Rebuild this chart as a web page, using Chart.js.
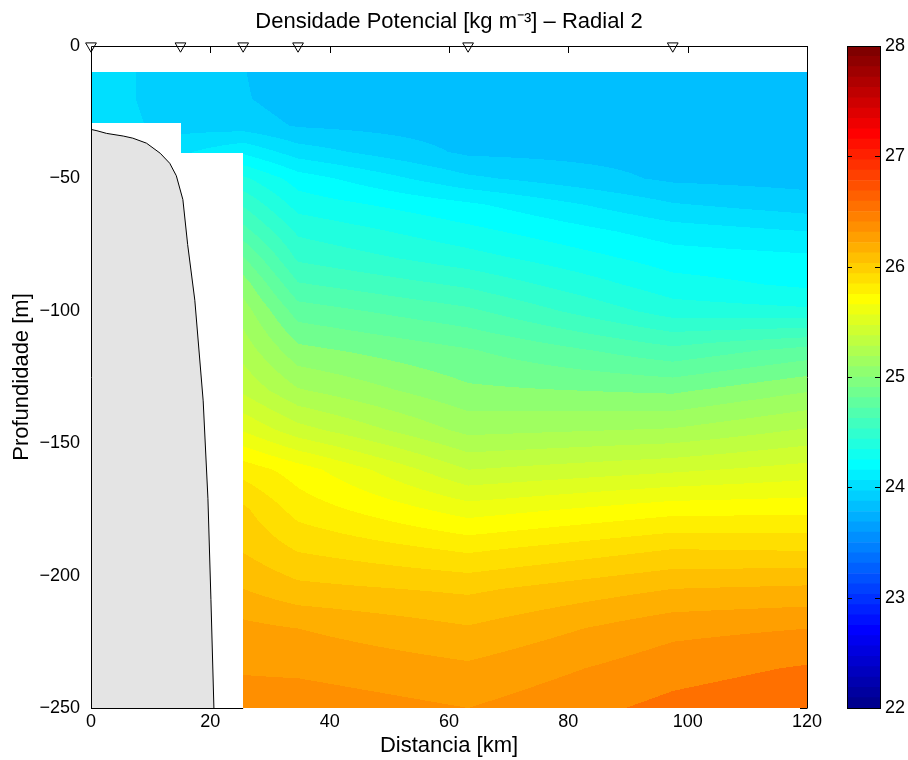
<!DOCTYPE html>
<html>
<head>
<meta charset="utf-8">
<script src="https://cdn.jsdelivr.net/npm/chart.js@4.4.1/dist/chart.umd.min.js"></script>
<style>
  body { margin: 0; background: #fff; }
  #wrap { position: relative; width: 908px; height: 760px; }
  #main { position: absolute; left: 0; top: 0; }
  #cbar { position: absolute; left: 820px; top: 0; }
</style>
</head>
<body>
<div id="wrap">
  <canvas id="main" width="908" height="760"></canvas>
  <canvas id="cbar" width="88" height="760"></canvas>
</div>
<script>
// stations (triangles on top axis), km
const STATION_KM = [0, 15, 25.5, 34.7, 63.2, 97.5];

// grid columns of the section, km
const GRID_KM = [0, 15, 25.5, 34.7, 63.2, 97.5, 120];
// depths of the profiles, m
const DEPTH_M = [10, 20, 30, 40, 50, 60, 70, 80, 90, 100, 115, 130, 145, 160, 175, 190, 205, 220, 235, 250];

// potential density profiles (kg m-3) at each grid column
const SIGMA_00 = [24.05, 24.05, 24.06];
const SIGMA_15 = [23.95, 23.95, 23.96, 24.08];
const SIGMA_25 = [23.905, 23.91, 23.95, 24.18, 24.42, 24.59, 24.74, 24.91, 25.05, 25.15, 25.26, 25.38, 25.59, 25.86, 26.02, 26.09, 26.20, 26.33, 26.39, 26.45];
const SIGMA_35 = [23.83, 23.85, 23.89, 24.05, 24.25, 24.36, 24.48, 24.58, 24.71, 24.85, 25.03, 25.21, 25.44, 25.75, 25.86, 25.99, 26.13, 26.30, 26.38, 26.46];
const SIGMA_63 = [23.81, 23.83, 23.85, 23.88, 24.02, 24.22, 24.33, 24.44, 24.58, 24.72, 24.91, 25.02, 25.17, 25.40, 25.65, 25.88, 26.08, 26.21, 26.32, 26.40];
const SIGMA_98 = [23.82, 23.84, 23.85, 23.86, 23.88, 24.01, 24.15, 24.25, 24.34, 24.45, 24.73, 24.98, 25.21, 25.48, 25.76, 26.00, 26.20, 26.37, 26.46, 26.53];
const SIGMA_120 = [23.80, 23.82, 23.83, 23.84, 23.86, 23.95, 24.10, 24.22, 24.28, 24.42, 24.84, 25.09, 25.31, 25.54, 25.77, 25.99, 26.22, 26.40, 26.51, 26.58];
const GRID_SIGMA = [SIGMA_00, SIGMA_15, SIGMA_25, SIGMA_35, SIGMA_63, SIGMA_98, SIGMA_120];
// deepest sampled depth between column i and i+1
const BOTTOM_M = [29.1, 40.4, 250, 250, 250, 250];

// bathymetry (grey shelf)
const BATHY_KM = [0, 1, 2.6, 5.4, 7, 9.3, 11.6, 13.2, 14.3, 15.4, 16.2, 17.4, 18.8, 19.6, 20.1, 20.6];
const BATHY_M = [31.5, 32, 33, 34, 34.8, 36.7, 40.5, 44.3, 49, 58, 75, 96, 134, 171, 209, 250];

// colour scale
const CMIN = 22, CMAX = 28, NCOLORS = 64;
const LEVEL_STEP = 0.1;

// matlab jet(64)
function jet(i) {
  let r = 0, g = 0, b = 0;
  if (i >= 24 && i <= 39) r = (i - 23) / 16; else if (i >= 40 && i <= 54) r = 1; else if (i >= 55) r = (71 - i) / 16;
  if (i >= 8 && i <= 23) g = (i - 7) / 16; else if (i >= 24 && i <= 38) g = 1; else if (i >= 39 && i <= 54) g = (55 - i) / 16;
  if (i <= 7) b = (i + 9) / 16; else if (i <= 22) b = 1; else if (i <= 38) b = (39 - i) / 16;
  return [Math.round(r * 255), Math.round(g * 255), Math.round(b * 255)];
}
const JET = [];
for (let i = 0; i < NCOLORS; i++) JET.push(jet(i));

function profile(col, d) {
  const n = col.length;
  if (d >= DEPTH_M[n - 1]) return col[n - 1];
  let j = 0;
  while (DEPTH_M[j + 1] < d) j++;
  const s = (d - DEPTH_M[j]) / (DEPTH_M[j + 1] - DEPTH_M[j]);
  return col[j] + s * (col[j + 1] - col[j]);
}

function levelColor(v) {
  const lev = Math.floor(v / LEVEL_STEP + 1e-6) * LEVEL_STEP;
  let k = Math.floor((lev - CMIN) / (CMAX - CMIN) * NCOLORS + 1e-6);
  k = Math.max(0, Math.min(NCOLORS - 1, k));
  return JET[k];
}

Chart.defaults.font.family = "'Liberation Sans', Arial, sans-serif";
Chart.defaults.color = '#000';

const sectionPlugin = {
  id: 'section',
  beforeDatasetsDraw(chart) {
    const { ctx, chartArea: a, scales: { x, y } } = chart;
    ctx.save();
    ctx.strokeStyle = '#000';
    ctx.lineWidth = 1;
    ctx.beginPath();
    x.ticks.forEach(t => {
      const px = Math.round(x.getPixelForValue(t.value)) + 0.5;
      ctx.moveTo(px, a.top); ctx.lineTo(px, a.top + 7);
      ctx.moveTo(px, a.bottom); ctx.lineTo(px, a.bottom - 7);
    });
    y.ticks.forEach(t => {
      const py = Math.round(y.getPixelForValue(t.value)) + 0.5;
      ctx.moveTo(a.left, py); ctx.lineTo(a.left + 7, py);
      ctx.moveTo(a.right, py); ctx.lineTo(a.right - 7, py);
    });
    ctx.stroke();

    // filled contours
    const w = Math.round(a.right - a.left), h = Math.round(a.bottom - a.top);
    const off = document.createElement('canvas');
    off.width = w; off.height = h;
    const octx = off.getContext('2d');
    const img = octx.createImageData(w, h);
    for (let px = 0; px < w; px++) {
      const km = x.getValueForPixel(a.left + px + 0.5);
      let i = 0;
      while (i < GRID_KM.length - 2 && km > GRID_KM[i + 1]) i++;
      const t = (km - GRID_KM[i]) / (GRID_KM[i + 1] - GRID_KM[i]);
      for (let py = 0; py < h; py++) {
        const d = -y.getValueForPixel(a.top + py + 0.5);
        if (d < DEPTH_M[0] || d > BOTTOM_M[i]) continue;
        const v = (1 - t) * profile(GRID_SIGMA[i], d) + t * profile(GRID_SIGMA[i + 1], d);
        const c = levelColor(v);
        const o = (py * w + px) * 4;
        img.data[o] = c[0]; img.data[o + 1] = c[1]; img.data[o + 2] = c[2]; img.data[o + 3] = 255;
      }
    }
    octx.putImageData(img, 0, 0);
    ctx.drawImage(off, a.left, a.top);
    ctx.restore();
  },
  afterDatasetsDraw(chart) {
    const { ctx, chartArea: a, scales: { x } } = chart;
    ctx.save();
    ctx.strokeStyle = '#000';
    ctx.lineWidth = 1;
    ctx.beginPath();
    ctx.moveTo(a.left + 0.5, a.bottom + 0.5);
    ctx.lineTo(a.left + 0.5, a.top + 0.5);
    ctx.lineTo(a.right + 0.5, a.top + 0.5);
    ctx.lineTo(a.right + 0.5, a.bottom + 0.5);
    ctx.moveTo(a.left, a.bottom + 0.5);
    ctx.lineTo(x.getPixelForValue(GRID_KM[2]), a.bottom + 0.5);
    ctx.stroke();
    ctx.restore();
  }
};

new Chart(document.getElementById('main'), {
  type: 'line',
  data: {
    datasets: [
      {
        label: 'Batimetria',
        data: BATHY_KM.map((k, i) => ({ x: k, y: -BATHY_M[i] })),
        borderColor: '#000',
        borderWidth: 1,
        backgroundColor: '#e4e4e4',
        fill: 'start',
        pointRadius: 0,
        tension: 0
      },
      {
        label: 'Estações',
        data: STATION_KM.map(k => ({ x: k, y: 0 })),
        showLine: false,
        pointStyle: 'triangle',
        rotation: 180,
        pointRadius: 6.2,
        backgroundColor: '#fff',
        borderColor: '#000',
        borderWidth: 1,
        clip: false
      }
    ]
  },
  options: {
    responsive: false,
    animation: false,
    layout: { padding: { left: 0, right: 10, top: 0, bottom: 0 } },
    plugins: {
      legend: { display: false },
      tooltip: { enabled: false },
      title: {
        display: true,
        text: 'Densidade Potencial [kg m\u207B\u00B3] \u2013 Radial 2',
        font: { size: 22, weight: 'normal' },
        color: '#000',
        padding: { top: 8.8, bottom: 10.8 }
      }
    },
    scales: {
      x: {
        type: 'linear', min: 0, max: 120,
        ticks: { stepSize: 20, font: { size: 18 }, padding: 3, maxRotation: 0 },
        grid: { display: false, drawTicks: false },
        border: { display: false },
        title: { display: true, text: 'Distancia [km]', font: { size: 22 }, padding: { top: 0, bottom: 0.8 } },
        afterFit: s => { s.height = 52; }
      },
      y: {
        type: 'linear', min: -250, max: 0,
        ticks: { stepSize: 50, font: { size: 18 }, padding: 11, callback: v => v === 0 ? '0' : '\u2212' + Math.abs(v) },
        grid: { display: false, drawTicks: false },
        border: { display: false },
        title: { display: true, text: 'Profundidade [m]', font: { size: 22 }, padding: { top: 8.8, bottom: 0 } },
        afterFit: s => { s.width = 91; }
      },
      y2: {
        type: 'linear', position: 'right', min: 0, max: 1,
        ticks: { display: false },
        grid: { display: false, drawTicks: false },
        border: { display: false },
        afterFit: s => { s.width = 91; }
      }
    }
  },
  plugins: [sectionPlugin]
});

// colour bar
const cbarFrame = {
  id: 'cbarFrame',
  afterDatasetsDraw(chart) {
    const { ctx, chartArea: a, scales: { y } } = chart;
    ctx.save();
    ctx.strokeStyle = '#000';
    ctx.lineWidth = 1;
    ctx.strokeRect(a.left + 0.5, a.top + 0.5, a.right - a.left, a.bottom - a.top);
    ctx.beginPath();
    y.ticks.forEach(t => {
      const py = Math.round(y.getPixelForValue(t.value)) + 0.5;
      ctx.moveTo(a.left, py); ctx.lineTo(a.left + 5, py);
      ctx.moveTo(a.right, py); ctx.lineTo(a.right - 5, py);
    });
    ctx.stroke();
    ctx.restore();
  }
};

const step = (CMAX - CMIN) / NCOLORS;
new Chart(document.getElementById('cbar'), {
  type: 'bar',
  data: {
    labels: [''],
    datasets: JET.map((c, i) => ({
      data: [[CMIN + i * step, CMIN + (i + 1) * step]],
      backgroundColor: 'rgb(' + c.join(',') + ')',
      borderWidth: 0
    }))
  },
  options: {
    responsive: false,
    animation: false,
    layout: { padding: { left: 27, right: 0, top: 46, bottom: 52 } },
    plugins: { legend: { display: false }, tooltip: { enabled: false } },
    datasets: { bar: { grouped: false, barPercentage: 1, categoryPercentage: 1 } },
    scales: {
      x: { display: false },
      y: {
        position: 'right', min: CMIN, max: CMAX,
        ticks: { stepSize: 1, font: { size: 18 }, padding: 5 },
        grid: { display: false, drawTicks: false },
        border: { display: false },
        afterFit: s => { s.width = 28; }
      }
    }
  },
  plugins: [cbarFrame]
});
</script>
</body>
</html>
